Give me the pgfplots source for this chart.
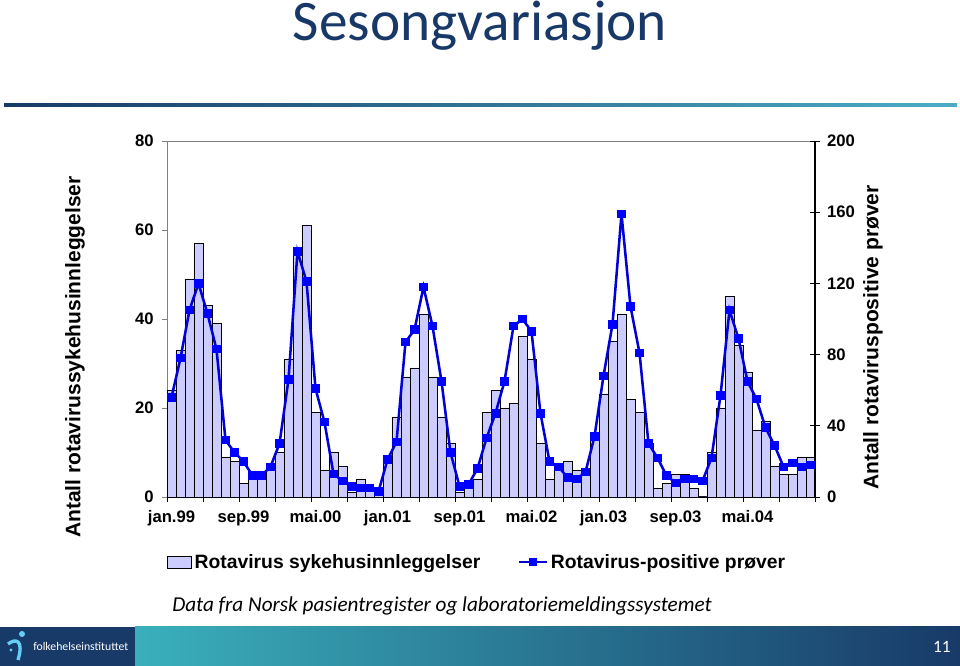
\documentclass[border=0pt]{standalone}
\usepackage{fontspec}
\setmainfont{Liberation Sans}
\newfontfamily\carlito{Carlito}
\usepackage{pgfplots}
\pgfplotsset{compat=1.18}
\definecolor{titleblue}{RGB}{24,56,104}
\definecolor{navy}{RGB}{24,58,104}
\definecolor{tealc}{RGB}{75,172,198}
\definecolor{footteal}{RGB}{58,176,188}
\definecolor{barfill}{RGB}{204,204,255}
\definecolor{lineblue}{RGB}{0,0,215}
\definecolor{markblue}{RGB}{0,0,255}
\pgfplotsset{
  mybase/.style={
    at={(125.25pt,126.75pt)}, anchor=south west,
    scale only axis, width=486pt, height=267pt,
    xmin=-0.5, xmax=71.5,
    ticklabel style={font=\fontsize{12.5}{14}\selectfont\bfseries},
    /pgf/number format/assume math mode=true,
  },
  barleg/.style={legend image code/.code={\draw[##1] (0pt,-4.5pt) rectangle (18pt,4.5pt);}},
  lineleg/.style={legend image code/.code={\draw[mark repeat=2,mark phase=2,##1] plot coordinates {(0pt,0pt) (10.5pt,0pt) (21pt,0pt)};}},
}
\begin{document}
\begin{tikzpicture}
\begin{scope}[x=0.75pt,y=0.75pt]
\useasboundingbox (0,0) rectangle (960,666);
\fill[white] (0,0) rectangle (960,666);
\node[anchor=base, text=titleblue, font=\carlito\fontsize{43}{50}\selectfont, inner sep=0] at (480,625) {Sesongvariasjon};
\shade[left color=navy, right color=tealc] (4,559.5) rectangle (957,562.5);
% footer
\shade[left color=footteal, right color=navy] (135,0) rectangle (960,39);
\fill[navy] (0,0) rectangle (135,39);
\fill[cyan!60!white] (22,32) circle (3);
\draw[cyan!60!white, line width=2.5] (8,22) .. controls (16,28) and (24,26) .. (18,6);
\fill[cyan!60!white] (11,16) circle (1.6);
\node[anchor=west, text=white, font=\carlito\fontsize{8.8}{10}\selectfont, inner sep=0] at (33,20) {folkehelseinstituttet};
\node[anchor=east, text=white, font=\carlito\fontsize{13}{15}\selectfont, inner sep=0] at (951,19) {11};
\node[anchor=west, font=\carlito\itshape\fontsize{15.9}{18}\selectfont, inner sep=0] at (172,60) {Data fra Norsk pasientregister og laboratoriemeldingssystemet};
\end{scope}

\begin{axis}[mybase, ymin=0, ymax=80,
  axis x line*=bottom, axis y line*=left,
  x axis line style={black, line width=0.8pt, -},
  y axis line style={gray, line width=0.6pt, -},
  ytick={0,20,40,60,80},
  major y tick style={gray, line width=0.6pt},
  yticklabel style={xshift=-3pt},
  xticklabel style={yshift=-3pt},
  tick align=outside, major tick length=3.5pt, minor tick length=4pt,
  xtick={0,8,...,64},
  xticklabels={jan.99,sep.99,mai.00,jan.01,sep.01,mai.02,jan.03,sep.03,mai.04},
  major x tick style={draw=none},
  minor xtick={-0.5,3.5,...,71.5},
  minor x tick style={black, line width=0.6pt},
  ylabel={Antall rotavirussykehusinnleggelser},
  ylabel style={at={(axis description cs:-0.142,0.393)}, anchor=center, font=\fontsize{15.75}{18}\selectfont\bfseries},
]
\addplot[ybar, bar width=1, fill=barfill, draw=black, line width=0.5pt] coordinates {
(0,24) (1,33) (2,49) (3,57) (4,43) (5,39) (6,9) (7,8) (8,3) (9,4) (10,4) (11,6)
(12,10) (13,31) (14,56) (15,61) (16,19) (17,6) (18,10) (19,7) (20,1) (21,4) (22,2) (23,1)
(24,9) (25,18) (26,27) (27,29) (28,41) (29,27) (30,18) (31,12) (32,1) (33,2) (34,4) (35,19)
(36,24) (37,20) (38,21) (39,36) (40,31) (41,12) (42,4) (43,7) (44,8) (45,6) (46,6) (47,13)
(48,23) (49,35) (50,41) (51,22) (52,19) (53,12) (54,2) (55,3) (56,5) (57,5) (58,2) (59,0)
(60,10) (61,20) (62,45) (63,34) (64,28) (65,15) (66,17) (67,7) (68,5) (69,5) (70,9) (71,9)
};
\draw[gray, line width=0.6pt] (rel axis cs:0,1) -- (rel axis cs:1,1);
\end{axis}

\begin{axis}[mybase, ymin=0, ymax=200,
  axis y line*=right, axis x line=none, xtick=\empty,
  y axis line style={black, line width=0.8pt, -},
  ytick={0,40,...,200},
  yticklabel style={xshift=2pt},
  tick align=center, major tick length=7pt,
  major y tick style={black, line width=0.6pt},
  ylabel={Antall rotaviruspositive prøver},
  ylabel style={at={(axis description cs:1.0895,0.448)}, anchor=center, font=\fontsize{15.75}{18}\selectfont\bfseries},
  legend columns=2,
  legend style={at={(axis description cs:0,-0.183)}, anchor=west, draw=none, fill=none, inner sep=0pt,
    font=\fontsize{14.5}{17}\selectfont\bfseries,
    /tikz/every even column/.append style={column sep=26pt}},
]
\addlegendimage{barleg, fill=barfill, draw=black, line width=0.5pt}
\addlegendentry{Rotavirus sykehusinnleggelser}
\addplot[lineblue, line width=1.9pt, mark=square*, mark size=2.8pt, mark options={fill=markblue, draw=markblue, line width=0pt}, lineleg] coordinates {
(0,56) (1,78) (2,105) (3,120) (4,103) (5,83) (6,32) (7,25) (8,20) (9,12) (10,12) (11,17)
(12,30) (13,66) (14,138) (15,121) (16,61) (17,42) (18,13) (19,9) (20,6) (21,5) (22,5) (23,3)
(24,21) (25,31) (26,87) (27,94) (28,118) (29,96) (30,65) (31,25) (32,6) (33,7) (34,16) (35,33)
(36,47) (37,65) (38,96) (39,100) (40,93) (41,47) (42,20) (43,17) (44,11) (45,10) (46,14) (47,34)
(48,68) (49,97) (50,159) (51,107) (52,81) (53,30) (54,22) (55,12) (56,8) (57,10) (58,10) (59,9)
(60,22) (61,57) (62,105) (63,89) (64,65) (65,55) (66,39) (67,29) (68,17) (69,19) (70,17) (71,18)
};
\addlegendentry{Rotavirus-positive prøver}
\end{axis}
\end{tikzpicture}
\end{document}
